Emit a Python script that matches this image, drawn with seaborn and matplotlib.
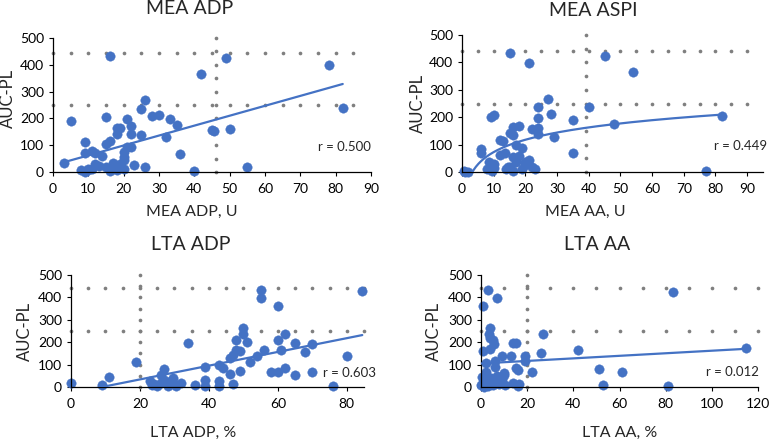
import numpy as np
import matplotlib
matplotlib.use("Agg")
import matplotlib.pyplot as plt
import seaborn as sns

sns.set_style("ticks")
plt.rcParams['font.family'] = ['Lato', 'DejaVu Sans']

# ---- data ----
# MEA ADP
x1 = [3, 5, 8, 9, 9, 9, 10, 10, 11, 11, 12, 12, 13, 14, 15, 15, 15, 16, 16, 16, 17, 17, 18, 18, 18,
      19, 19, 19, 20, 20, 20, 20, 21, 21, 22, 22, 22, 23, 25, 25, 26, 26, 28, 30, 32, 33, 35, 36, 40,
      42, 45, 45.5, 49, 50, 55, 78, 82]
y1 = [35, 191, 8, 113, 70, 1, 8, 12, 80, 10, 70, 30, 22, 61, 105, 204, 20, 434, 117, 5, 32, 20, 166, 141, 8,
      163, 20, 30, 45, 57, 76, 10, 95, 198, 170, 142, 92, 26, 236, 138, 267, 17, 210, 213, 130, 198, 176, 69, 5,
      365, 157, 153, 425, 161, 20, 398, 237]
# MEA ASPI
x2 = [0.5, 1, 2, 6, 6, 8, 8.5, 9, 9, 9.5, 10, 10, 10, 12, 12, 13, 13.5, 14, 14.5, 15, 15, 15, 16, 16, 16,
      16, 17, 17, 18, 18, 19, 19, 20, 20, 21, 21, 22, 22, 23, 24, 24, 24, 24, 27, 28, 29, 35, 35, 40, 45,
      48, 54, 77, 82]
y2 = [5, 1, 1, 83, 68, 10, 36, 200, 20, 5, 208, 30, 15, 117, 62, 113, 68, 12, 18, 433, 141, 20, 165, 135, 56,
      5, 97, 35, 168, 60, 86, 10, 35, 25, 397, 45, 157, 20, 10, 236, 198, 162, 137, 266, 213, 129, 190, 68, 238, 423,
      174, 364, 5, 204]
# LTA ADP
x3 = [0, 9, 11, 19, 23, 23.5, 24, 25, 26, 26, 27, 27, 28, 29, 29.5, 30, 30.5, 32, 34, 36, 39, 39, 39, 43, 43,
      43, 44, 46, 46, 47, 47, 48, 48, 49, 49, 50, 50, 51, 52, 54, 55, 55, 56, 58, 60, 60, 60, 61, 62, 62,
      65, 65, 68, 70, 70, 76, 80, 84.5]
y3 = [18, 7, 43, 111, 28, 7, 15, 3, 18, 55, 81, 33, 3, 25, 40, 15, 3, 20, 198, 7, 90, 33, 3, 100, 25,
      3, 85, 58, 130, 15, 145, 167, 212, 70, 160, 265, 235, 202, 112, 138, 432, 397, 165, 67, 67, 208, 362, 163, 235, 85,
      198, 52, 156, 190, 67, 3, 138, 430]
# LTA AA
x4 = [0, 0.5, 1, 1, 1, 1.5, 2, 2, 2.5, 3, 3, 3.5, 4, 4, 4, 4.5, 5, 5, 5.5, 6, 6, 6.5, 7, 7, 8, 9, 9, 10,
      10, 10.5, 13, 14, 14, 15, 15, 16, 16, 16.5, 19, 19, 22, 26, 27, 42, 51, 53, 61, 81, 83, 115]
y4 = [10, 45, 362, 160, 20, 2, 108, 65, 30, 433, 5, 235, 265, 220, 168, 40, 212, 10, 190, 115, 88, 25, 397, 50,
      15, 138, 35, 63, 55, 8, 138, 198, 20, 198, 85, 78, 5, 12, 138, 115, 67, 153, 235, 163, 81, 10, 67, 3, 425, 172]

# trendlines (coefficients)
fit1 = (3.7, 25)      # linear
fit2 = (65, -77)      # logarithmic: a*ln(x)+b
fit3 = (3.07, -27.6)  # linear
fit4 = (0.57, 105)    # linear
r_text = ["r = 0.500", "r = 0.449", "r = 0.603", "r = 0.012"]

# cut-off reference lines
cut_y = [250, 443]
cut_x = [46, 39, 20, 20]

titles = ["MEA ADP", "MEA ASPI", "LTA ADP", "LTA AA"]
xlabels = ["MEA ADP, U", "MEA AA, U", "LTA ADP, %", "LTA AA, %"]

blue = "#4472C4"
gray = "#7F7F7F"

fig = plt.figure(figsize=(7.7, 4.42), dpi=100)
rects = [[53/770, 1-172/442, 318/770, 134/442],
         [462/770, 1-172/442, 301/770, 137/442],
         [71/770, 1-387/442, 293/770, 112/442],
         [481/770, 1-387/442, 277/770, 112/442]]
xlims = [(0, 90), (0, 95), (0, 85), (0, 120)]
xticks = [np.arange(0, 91, 10), np.arange(0, 91, 10), np.arange(0, 81, 20), np.arange(0, 121, 20)]
hx = [np.arange(0, 86, 5), np.arange(0, 91, 5), np.arange(0, 86, 5), np.arange(0, 121, 10)]
ylab_pos = [(-0.142, 0.55), (-0.146, 0.5), (-0.157, 0.5), (-0.17, 0.5)]
xlab_pos = [(0.437, -0.30), (0.41, -0.29), (0.416, -0.41), (0.50, -0.41)]
r_pos = [(1.0, 0.19), (1.013, 0.19), (1.04, 0.125), (1.004, 0.134)]
title_pos = [(190, 9), (593, 10), (191, 245), (597, 245)]

data = [(x1, y1), (x2, y2), (x3, y3), (x4, y4)]

for i in range(4):
    ax = fig.add_axes(rects[i])
    xs, ys = data[i]
    # dotted cut-off lines
    for cy in cut_y:
        ax.scatter(hx[i], [cy] * len(hx[i]), s=7, color=gray, zorder=1, clip_on=False, linewidths=0)
    vy = np.arange(0, 501, 50)
    ax.scatter([cut_x[i]] * len(vy), vy, s=7, color=gray, zorder=1, clip_on=False, linewidths=0)
    # points
    sns.scatterplot(x=xs, y=ys, ax=ax, color=blue, s=46, edgecolor=blue, linewidth=0.3,
                    zorder=2, clip_on=False)
    # trendline
    lx = np.linspace(min(xs), max(xs), 200)
    if i == 1:
        lx = np.linspace(3.2, max(xs), 200)
        ly = fit2[0] * np.log(lx) + fit2[1]
    else:
        a, b = [fit1, None, fit3, fit4][i]
        ly = a * lx + b
    ax.plot(lx, ly, color=blue, lw=1.6, zorder=3)

    ax.set_xlim(*xlims[i])
    ax.set_ylim(0, 500)
    ax.set_xticks(xticks[i])
    ax.set_yticks(np.arange(0, 501, 100))
    ax.tick_params(labelsize=10, length=3, width=0.8, pad=3.5, colors="black")
    ax.tick_params(axis="x", pad=5)
    for sp in ["top", "right"]:
        ax.spines[sp].set_visible(False)
    for sp in ["left", "bottom"]:
        ax.spines[sp].set_color("black")
        ax.spines[sp].set_linewidth(0.9)
    ax.set_ylabel("AUC-PL", fontsize=12)
    ax.set_xlabel(xlabels[i], fontsize=11.5)
    ax.yaxis.set_label_coords(*ylab_pos[i])
    ax.xaxis.set_label_coords(*xlab_pos[i])
    ax.xaxis.label.set_va("center")
    ax.yaxis.label.set_va("center")
    ax.text(r_pos[i][0], r_pos[i][1], r_text[i], transform=ax.transAxes, ha="right", va="center",
            fontsize=9.5)
    fig.text(title_pos[i][0] / 770, 1 - title_pos[i][1] / 442, titles[i], ha="center", va="center",
             fontsize=14)

fig.savefig("out.png", dpi=100)
